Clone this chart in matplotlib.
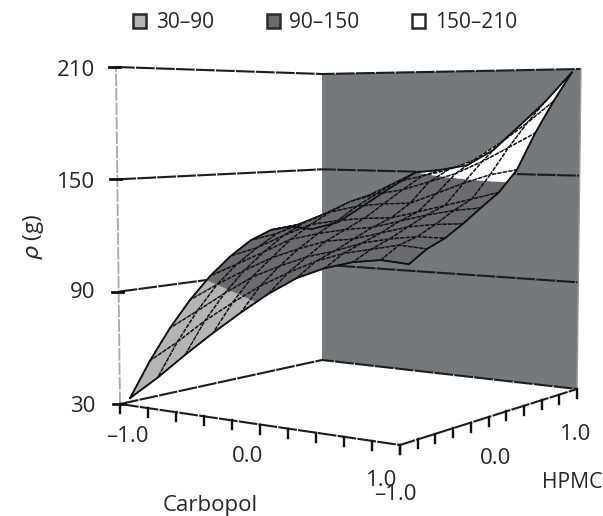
import matplotlib
matplotlib.use("Agg")
import matplotlib.pyplot as plt
from matplotlib.patches import Patch
import numpy as np

plt.rcParams['font.family'] = ['Open Sans', 'DejaVu Sans']
plt.rcParams['mathtext.fontset'] = 'dejavusans'

# values
carbopol = np.array([-1.0, -0.8, -0.6, -0.4, -0.2, 0.0, 0.2, 0.4, 0.6, 0.8, 1.0])
hpmc = np.array([-0.9, -0.7, -0.5, -0.3, -0.1, 0.1, 0.3, 0.5, 0.7, 0.9])
rho = np.array([
    [32, 45, 59, 72, 84, 95, 104, 110, 114, 116, 115],
    [50, 62, 75, 86, 96, 104, 111, 116, 119, 122, 121],
    [66, 77, 88, 98, 105, 111, 115, 120, 123, 125, 125],
    [80, 90, 99, 107, 113, 118, 120, 124, 128, 130, 131],
    [92, 100, 108, 116, 120, 123, 125, 129, 133, 136, 138],
    [102, 108, 116, 123, 126, 128, 129, 133, 137, 141, 145],
    [110, 115, 122, 129, 133, 135, 136, 142, 148, 153, 156],
    [115, 119, 126, 134, 139, 142, 147, 152, 159, 167, 175],
    [116, 120, 128, 137, 145, 149, 153, 159, 169, 180, 192],
    [113, 118, 129, 140, 150, 152, 155, 164, 178, 192, 208],
])
levels = [30, 90, 150, 210]
band_labels = ["30–90", "90–150", "150–210"]
band_colors = ["#b4b4b4", "#6b6b6d", "#ffffff"]
rho_ticks = [30, 90, 150, 210]
axis_ticks = np.arange(-1.0, 1.01, 0.2)

# box corners on the page, (carbopol, hpmc) -> pixels
floor = {(-1, -1): (120, 404), (1, -1): (400, 445), (1, 1): (577, 389), (-1, 1): (322, 360)}
roof = {(-1, -1): (116, 67), (1, -1): (400, 65), (1, 1): (581, 69), (-1, 1): (322, 74)}


def corners(box, c, h):
    u = (np.asarray(c, float) + 1) / 2
    v = (np.asarray(h, float) + 1) / 2
    x = 0
    y = 0
    for (ci, hi), (px, py) in box.items():
        w = (u if ci == 1 else 1 - u) * (v if hi == 1 else 1 - v)
        x = x + w * px
        y = y + w * py
    return x, y


def project(c, h, z):
    t = (np.asarray(z, float) - 30) / 180
    x0, y0 = corners(floor, c, h)
    x1, y1 = corners(roof, c, h)
    return x0 + t * (x1 - x0), y0 + t * (y1 - y0)


def clip_band(quad, lo, hi):
    # cut one mesh cell down to the part that lies inside lo..hi
    pts = quad
    for limit, sign in [(lo, 1), (hi, -1)]:
        out = []
        for i in range(len(pts)):
            a = pts[i]
            b = pts[(i + 1) % len(pts)]
            da = sign * (a[2] - limit)
            db = sign * (b[2] - limit)
            if da >= 0:
                out.append(a)
            if da * db < 0:
                s = da / (da - db)
                out.append(tuple(a[k] + s * (b[k] - a[k]) for k in range(3)))
        pts = out
        if not pts:
            break
    return pts


fig = plt.figure(figsize=(6.03, 5.16), dpi=100)
ax = fig.add_axes([0, 0, 1, 1])
ax.set_xlim(0, 603)
ax.set_ylim(516, 0)
ax.axis('off')

# back wall
wx, wy = project([-1, 1, 1, -1], [1, 1, 1, 1], [30, 30, 210, 210])
ax.fill(wx, wy, color="#77787b", lw=0, zorder=1)

line = dict(color="#1c1c1c", lw=1.5, ls=(0, (9, 0.6)), zorder=2)

# lines on the walls
for z in rho_ticks[1:]:
    x, y = project([-1, -1, 1], [-1, 1, 1], [z, z, z])
    ax.plot(x, y, **line)
    ax.plot([x[0] - 7, x[0] + 4], [y[0], y[0]], color="#111111", lw=2, zorder=3)
x, y = project([-1, -1], [-1, -1], [30, 210])
ax.plot(x, y, color="#a8a8a8", lw=1.3, ls=(0, (7, 1)), zorder=2)
x, y = project([1, 1], [1, 1], [30, 210])
ax.plot(x, y, color="#9a9a9a", lw=1.0, zorder=2)

# floor
x, y = project([-1, -1, 1], [-1, 1, 1], [30, 30, 30])
ax.plot(x, y, **line)
x, y = project([-1, 1, 1], [-1, -1, 1], [30, 30, 30])
ax.plot(x, y, **line)
for t in axis_ticks:
    x, y = project(t, -1, 30)
    ax.plot([x, x], [y, y + 9], color="#111111", lw=1.7, zorder=3)
    x, y = project(1, t, 30)
    ax.plot([x, x], [y, y + 9], color="#111111", lw=1.7, zorder=3)
x, y = project(-1, -1, 30)
ax.plot([x - 7, x + 5], [y, y], color="#111111", lw=2, zorder=3)

# surface, far cells first so the near ones cover them
cells = [(j, i) for j in range(len(hpmc) - 1) for i in range(len(carbopol) - 1)]
cells.sort(key=lambda cell: cell[1] - cell[0])
for j, i in cells:
    idx = [(j, i), (j, i + 1), (j + 1, i + 1), (j + 1, i)]
    quad = [(carbopol[b], hpmc[a], rho[a, b]) for a, b in idx]
    for k, color in enumerate(band_colors):
        part = clip_band(quad, levels[k], levels[k + 1])
        if len(part) > 2:
            px, py = project(*zip(*part))
            ax.fill(px, py, facecolor=color, edgecolor=color, lw=0.3, zorder=4)
    px, py = project(*zip(*(quad + quad[:1])))
    ax.plot(px, py, color="#111111", lw=1.0, ls=(0, (3, 1)), zorder=4)

C, H = np.meshgrid(carbopol, hpmc)
X, Y = project(C, H, rho)
for edge_x, edge_y in [(X[0], Y[0]), (X[-1], Y[-1]), (X[:, 0], Y[:, 0]), (X[:, -1], Y[:, -1])]:
    ax.plot(edge_x, edge_y, color="#111111", lw=1.3, zorder=6)

# labels
text = dict(fontsize=16, color="#262626", va='center')
for z, ypos in zip(rho_ticks, [406, 292, 182, 71]):
    ax.text(95, ypos, str(z), ha='right', **text)
ax.text(33, 237, r"$\rho$ (g)", rotation=90, ha='center', **text)
ax.text(127, 437, "–1.0", ha='center', **text)
ax.text(248, 456, "0.0", ha='center', **text)
ax.text(382, 480, "1.0", ha='center', **text)
ax.text(395, 494, "–1.0", ha='center', **text)
ax.text(496, 459, "0.0", ha='center', **text)
ax.text(576, 434, "1.0", ha='center', **text)
ax.text(210, 506, "Carbopol", ha='center', **text)
ax.text(572, 482, "HPMC", ha='center', fontsize=15.2, color="#262626", va='center')

handles = [Patch(facecolor=c, edgecolor="#2a2a2a", lw=1.8, label=l)
           for c, l in zip(band_colors, band_labels)]
ax.legend(handles=handles, ncols=3, frameon=False, loc='center', bbox_to_anchor=(325 / 603, 1 - 23 / 516),
          fontsize=15, labelcolor="#262626", handlelength=0.62, handleheight=0.62,
          handletextpad=0.45, columnspacing=2.55, borderpad=0, borderaxespad=0)

fig.savefig("out.png", dpi=100)
